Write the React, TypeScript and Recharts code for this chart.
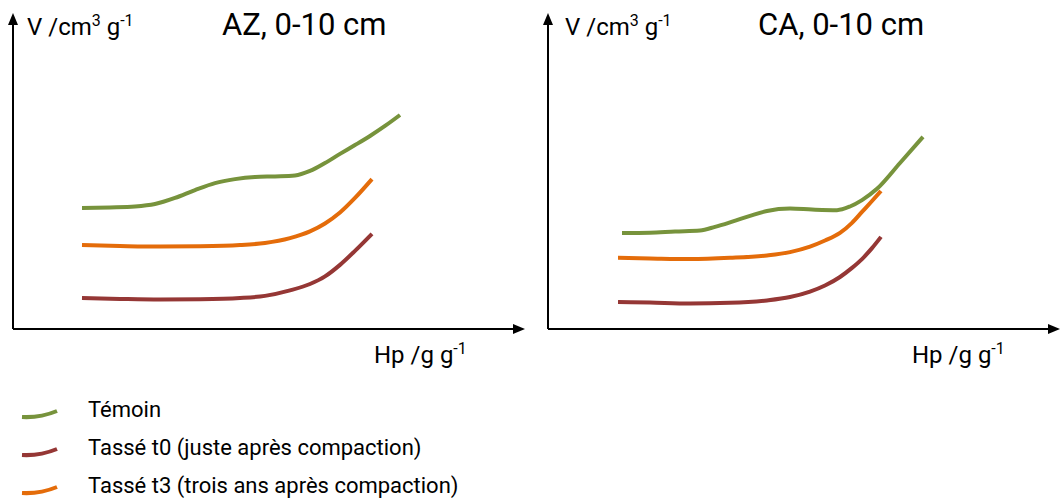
import React from 'react';
import { LineChart, Line, XAxis, YAxis } from 'recharts';

// Series colours
const GREEN = '#77933C';
const RED = '#953735';
const ORANGE = '#E46C0A';

// Axis scale (arbitrary units, no ticks shown)
const HP_DOMAIN: [number, number] = [0, 100];
const V_DOMAIN: [number, number] = [0, 100];

// Panel titles and series names
const panelTitles = ['AZ, 0-10 cm', 'CA, 0-10 cm'];
const seriesNames = ['Témoin', 'Tassé t0 (juste après compaction)', 'Tassé t3 (trois ans après compaction)'];

// AZ, 0-10 cm
const azTemoinHp = [13.8, 19.4, 24.4, 28.4, 32.4, 36.4, 40.4, 44.4, 48.4, 52.4, 56.4, 59.4, 62.4, 65.4, 68.4, 71.4, 74.4, 77.4];
const azTemoinV = [39.8, 40.0, 40.3, 41.1, 43.1, 45.7, 48.0, 49.3, 50.0, 50.2, 50.5, 52.0, 54.6, 57.6, 60.5, 63.5, 66.8, 70.4];
const azT0Hp = [13.8, 21.4, 29.4, 37.4, 45.4, 50.4, 55.4, 59.4, 62.4, 65.4, 68.4, 71.8];
const azT0V = [10.2, 9.9, 9.7, 9.8, 10.2, 10.9, 12.7, 14.8, 17.3, 21.1, 25.7, 31.3];
const azT3Hp = [13.8, 21.4, 29.4, 37.4, 45.4, 50.4, 55.4, 59.4, 62.4, 65.4, 68.4, 71.8];
const azT3V = [27.6, 27.3, 27.1, 27.2, 27.6, 28.3, 29.9, 32.1, 34.7, 38.3, 43.1, 49.3];

// CA, 0-10 cm
const caTemoinHp = [14.8, 20.4, 25.4, 30.4, 33.4, 37.0, 40.4, 43.8, 48.4, 52.8, 57.8, 60.4, 62.8, 65.8, 70.4, 75.0];
const caTemoinV = [31.6, 31.7, 32.1, 32.4, 33.6, 35.4, 37.2, 38.8, 39.6, 39.3, 39.1, 40.3, 42.4, 46.1, 54.6, 63.2];
const caT0Hp = [14.0, 20.4, 28.4, 36.4, 43.8, 48.4, 52.4, 55.4, 58.4, 60.8, 62.8, 64.8, 66.6];
const caT0V = [8.9, 8.7, 8.4, 8.6, 9.4, 10.5, 12.3, 14.3, 17.1, 20.1, 23.0, 26.6, 30.3];
const caT3Hp = [14.0, 20.4, 28.4, 36.4, 43.8, 48.4, 52.4, 55.4, 58.4, 60.8, 62.8, 64.8, 66.6];
const caT3V = [23.4, 23.2, 23.0, 23.4, 24.2, 25.3, 27.1, 29.1, 31.6, 34.9, 38.5, 42.1, 45.4];

type Pt = { hp: number; v: number };
const zip = (hp: number[], v: number[]): Pt[] => hp.map((h, i) => ({ hp: h, v: v[i] }));

const FONT = 'Roboto, "Noto Sans", sans-serif';
const CHART_W = 530;
const CHART_H = 340;

type SeriesDef = { name: string; color: string; data: Pt[] };

const panels: { title: string; series: SeriesDef[]; left: number; marginLeft: number; marginRight: number }[] = [
  {
    title: panelTitles[0],
    left: 0,
    marginLeft: 12,
    marginRight: 17,
    series: [
      { name: seriesNames[0], color: GREEN, data: zip(azTemoinHp, azTemoinV) },
      { name: seriesNames[1], color: RED, data: zip(azT0Hp, azT0V) },
      { name: seriesNames[2], color: ORANGE, data: zip(azT3Hp, azT3V) },
    ],
  },
  {
    title: panelTitles[1],
    left: 530,
    marginLeft: 17,
    marginRight: 12,
    series: [
      { name: seriesNames[0], color: GREEN, data: zip(caTemoinHp, caTemoinV) },
      { name: seriesNames[1], color: RED, data: zip(caT0Hp, caT0V) },
      { name: seriesNames[2], color: ORANGE, data: zip(caT3Hp, caT3V) },
    ],
  },
];

const legendItems = [
  { name: seriesNames[0], color: GREEN },
  { name: seriesNames[1], color: RED },
  { name: seriesNames[2], color: ORANGE },
];

function Panel({ p }: { p: (typeof panels)[number] }) {
  return (
    <div style={{ position: 'absolute', left: p.left, top: 0 }}>
      <LineChart
        width={CHART_W}
        height={CHART_H}
        margin={{ top: 25, right: p.marginRight, bottom: 10, left: p.marginLeft }}
      >
        <XAxis
          type="number"
          dataKey="hp"
          domain={HP_DOMAIN}
          allowDataOverflow
          tick={false}
          tickLine={false}
          height={1}
          axisLine={{ stroke: '#000', strokeWidth: 2, markerEnd: 'url(#axis-arrow)' }}
        />
        <YAxis
          type="number"
          dataKey="v"
          domain={V_DOMAIN}
          allowDataOverflow
          tick={false}
          tickLine={false}
          width={1}
          axisLine={{ stroke: '#000', strokeWidth: 2, markerStart: 'url(#axis-arrow)' }}
        />
        {p.series.map((s) => (
          <Line
            key={s.name}
            data={s.data}
            dataKey="v"
            name={s.name}
            type="monotone"
            stroke={s.color}
            strokeWidth={4}
            dot={false}
            activeDot={false}
            isAnimationActive={false}
          />
        ))}
      </LineChart>
    </div>
  );
}

function AxisText({ x, y, main, sup1, mid, sup2, size }: { x: number; y: number; main: string; sup1?: string; mid: string; sup2: string; size: number }) {
  const s = Math.round(size * 0.66);
  const d = Math.round(size * 0.36);
  return (
    <text x={x} y={y} fontSize={size} fill="#000" fontFamily={FONT}>
      {main}
      {sup1 ? (
        <tspan dy={-d} fontSize={s}>
          {sup1}
        </tspan>
      ) : null}
      <tspan dy={sup1 ? d : 0}>{mid}</tspan>
      <tspan dy={-d} fontSize={s}>
        {sup2}
      </tspan>
    </text>
  );
}

export default function App() {
  return (
    <div style={{ position: 'absolute', left: 0, top: 0, width: 1060, height: 498, background: '#fff', fontFamily: FONT }}>
      <svg width={0} height={0} style={{ position: 'absolute' }}>
        <defs>
          <marker
            id="axis-arrow"
            markerWidth={12}
            markerHeight={10}
            refX={0}
            refY={5}
            orient="auto-start-reverse"
            markerUnits="userSpaceOnUse"
          >
            <path d="M0,0 L12,5 L0,10 z" fill="#000" />
          </marker>
        </defs>
      </svg>
      {panels.map((p) => (
        <Panel key={p.title} p={p} />
      ))}
      <svg width={1060} height={498} style={{ position: 'absolute', left: 0, top: 0, pointerEvents: 'none' }}>
        {/* panel titles */}
        <text x={222} y={35} fontSize={31} fill="#000" fontFamily={FONT}>
          {panels[0].title}
        </text>
        <text x={758} y={35} fontSize={31} fill="#000" fontFamily={FONT}>
          {panels[1].title}
        </text>
        {/* axis labels */}
        <AxisText x={27} y={35} main="V /cm" sup1="3" mid=" g" sup2="-1" size={24} />
        <AxisText x={565} y={35} main="V /cm" sup1="3" mid=" g" sup2="-1" size={24} />
        <AxisText x={374} y={363} main="Hp /g g" mid="" sup2="-1" size={24} />
        <AxisText x={912} y={363} main="Hp /g g" mid="" sup2="-1" size={24} />
        {/* legend */}
        {legendItems.map((it, i) => {
          const base = 417 + i * 38;
          return (
            <g key={it.name}>
              <path
                d={`M22,${base} Q40,${base + 1} 57,${base - 6}`}
                stroke={it.color}
                strokeWidth={4}
                fill="none"
              />
              <text x={88} y={base} fontSize={22} fill="#000" fontFamily={FONT}>
                {it.name}
              </text>
            </g>
          );
        })}
      </svg>
    </div>
  );
}
